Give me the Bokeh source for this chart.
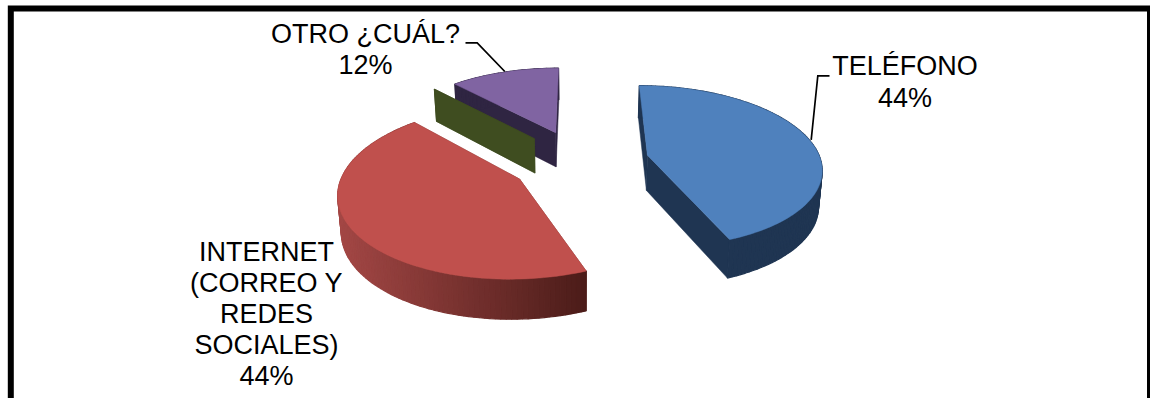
import numpy as np
from bokeh.embed import file_html
from bokeh.models import Range1d
from bokeh.plotting import figure
from bokeh.resources import INLINE
from bokeh.core.properties import value

# Survey shares per contact channel
categories = ["TELÉFONO", "INTERNET", "CARTA", "OTRO"]
shares = [44, 44, 0, 12]
label_lines = [
    ["TELÉFONO"],
    ["INTERNET", "(CORREO Y", "REDES", "SOCIALES)"],
    [],
    ["OTRO ¿CUÁL?"],
]

top_colors = ["#4f81bd", "#c0504d", "#9bbb59", "#8064a2"]
side_colors = ["#1f3552", "#7a302d", "#3f4d20", "#2f2542"]
rim_light = ["#1f3552", "#a34745", "#3f4d20", "#2f2542"]
rim_dark = ["#1f3552", "#4b1c19", "#3f4d20", "#2f2542"]

# Label placement: centre x, first line y
label_anchor = [(904.5, 65), (266, 251), None, (365, 33)]
line_step = [32.5, 31.1, 0, 31.3]
leaders = [
    ([829, 817.3, 810.7], [75.3, 75.3, 139.3]),
    ([465, 476.7, 504.3], [42.3, 42.3, 71]),
]

# Perspective camera on the pie's ground plane
VANISH_X, VANISH_Y = 579.5, -423.0
U_RADIUS, T_RADIUS, T_CENTRE = 0.297, 0.000237, 0.001713
EXPLODE = 0.40


def project(gx, gy):
    dist = 1.0 / (T_CENTRE + T_RADIUS * np.asarray(gy))
    return VANISH_X + dist * U_RADIUS * np.asarray(gx), dist + VANISH_Y


def drop(x, y):
    dist = y - VANISH_Y
    return VANISH_X + (x - VANISH_X) * 0.985, y + 12 + 0.04 * dist


def mix(c1, c2, t):
    a = [int(c1[i:i + 2], 16) for i in (1, 3, 5)]
    b = [int(c2[i:i + 2], 16) for i in (1, 3, 5)]
    return "#%02x%02x%02x" % tuple(round(p + (q - p) * t) for p, q in zip(a, b))


W, H = 1150, 398
p = figure(width=W, height=H, output_backend="svg", toolbar_location=None,
           x_range=Range1d(0, W), y_range=Range1d(H, 0),
           min_border=0, outline_line_color=None, background_fill_color="white")
p.axis.visible = False
p.grid.visible = False

# Frame, open past the bottom of the page
p.line([10.3, 10.3, 1149.5, 1149.5], [420, 8, 8, 420], line_color="black",
       line_width=6, line_join="miter")

fractions = np.array(shares, dtype=float) / sum(shares)
stops = np.concatenate([[0], np.cumsum(fractions)]) * 2 * np.pi
wedges = []
for i in range(len(shares)):
    a0, a1 = stops[i], stops[i + 1]
    mid = (a0 + a1) / 2
    ox, oy = EXPLODE * np.sin(mid), EXPLODE * np.cos(mid)
    theta = np.linspace(a0, a1, max(2, int(np.degrees(a1 - a0) / 1.5)))
    wedges.append((i, ox, oy, theta))

# Back slices first so nearer ones overlap them
for i, ox, oy, theta in sorted(wedges, key=lambda w: -w[2]):
    rx, ry = project(ox + np.sin(theta), oy + np.cos(theta))
    ax, ay = project(np.array([ox]), np.array([oy]))
    bx, by = drop(rx, ry)
    cx, cy = drop(ax, ay)

    # Straight cut faces
    for k in (0, -1):
        p.patch([float(ax[0]), float(rx[k]), float(bx[k]), float(cx[0])],
                [float(ay[0]), float(ry[k]), float(by[k]), float(cy[0])],
                fill_color=side_colors[i], line_color=side_colors[i], line_width=0.5)

    # Curved outer wall, shaded from left to right
    xs, ys, cols = [], [], []
    lo, hi = rx.min(), rx.max()
    for k in range(len(theta) - 1):
        xs.append([rx[k], rx[k + 1], bx[k + 1], bx[k]])
        ys.append([ry[k], ry[k + 1], by[k + 1], by[k]])
        t = ((rx[k] + rx[k + 1]) / 2 - lo) / (hi - lo) if hi > lo else 0
        cols.append(mix(rim_light[i], rim_dark[i], t))
    if xs:
        p.patches(xs, ys, fill_color=cols, line_color=cols, line_width=1.2)

    # Top face
    if shares[i] > 0:
        p.patch(np.concatenate([ax, rx]), np.concatenate([ay, ry]),
                fill_color=top_colors[i], line_color=top_colors[i], line_width=0.5)

for lx, ly in leaders:
    p.line(lx, ly, line_color="black", line_width=1.7, line_join="miter")

for i, lines in enumerate(label_lines):
    if label_anchor[i] is None:
        continue
    x0, y0 = label_anchor[i]
    rows = lines + [f"{shares[i]}%"]
    p.text([x0] * len(rows), [y0 + j * line_step[i] for j in range(len(rows))], text=rows,
           text_font=value("Liberation Sans"), text_font_size="27px", text_color="black",
           text_align="center", text_baseline="alphabetic")

open("out.html", "w").write(file_html(p, INLINE))
